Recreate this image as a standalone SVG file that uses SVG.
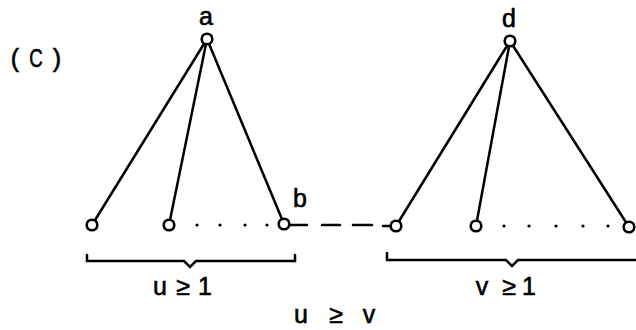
<svg xmlns="http://www.w3.org/2000/svg" width="636" height="330" viewBox="0 0 636 330">
<style>
.e{stroke:#000;stroke-width:2.5;fill:none;stroke-linecap:round}
.n{fill:#fff;stroke:#000;stroke-width:2.6}
.d{fill:#000}
.t{font-family:"Liberation Sans",Arial,sans-serif;fill:#000;stroke:#000;stroke-width:0.6;font-size:25px;text-anchor:middle}
</style>
<rect width="636" height="330" fill="#fff"/>
<g id="label-c">
<text class="t" x="15" y="67">(</text>
<text class="t" x="36" y="67" transform="translate(36 0) scale(0.75 1) translate(-36 0)" font-size="29">C</text>
<text class="t" x="57" y="67">)</text>
</g>
<g id="connectors">
<line class="e" x1="207" y1="39" x2="92" y2="225"/>
<line class="e" x1="207" y1="39" x2="169" y2="225"/>
<line class="e" x1="207" y1="39" x2="284" y2="224"/>
<line class="e" x1="510" y1="41" x2="396" y2="226"/>
<line class="e" x1="510" y1="41" x2="476" y2="226"/>
<line class="e" x1="510" y1="41" x2="629" y2="227"/>
<line class="e" x1="289" y1="225" x2="307" y2="225"/>
<line class="e" x1="322" y1="225" x2="340" y2="225"/>
<line class="e" x1="353" y1="225" x2="372" y2="225"/>
<line class="e" x1="383" y1="226" x2="391" y2="226"/>
</g>
<g id="dots">
<circle class="d" cx="197" cy="225" r="1.6"/>
<circle class="d" cx="220" cy="225" r="1.6"/>
<circle class="d" cx="245" cy="225" r="1.6"/>
<circle class="d" cx="267" cy="225" r="1.6"/>
<circle class="d" cx="504" cy="226" r="1.6"/>
<circle class="d" cx="529" cy="226" r="1.6"/>
<circle class="d" cx="556" cy="226" r="1.6"/>
<circle class="d" cx="583" cy="226" r="1.6"/>
<circle class="d" cx="608" cy="226" r="1.6"/>
</g>
<g id="node-a"><circle class="n" cx="207" cy="39" r="5.3"/><text class="t" x="206" y="25" font-size="27">a</text></g>
<g id="node-a1"><circle class="n" cx="92" cy="225" r="5.3"/></g>
<g id="node-a2"><circle class="n" cx="169" cy="225" r="5.3"/></g>
<g id="node-b"><circle class="n" cx="284" cy="224" r="5.3"/><text class="t" x="300" y="207" font-size="29">b</text></g>
<g id="node-d"><circle class="n" cx="510" cy="41" r="5.3"/><text class="t" x="509" y="27" font-size="27">d</text></g>
<g id="node-d1"><circle class="n" cx="396" cy="226" r="5.3"/></g>
<g id="node-d2"><circle class="n" cx="476" cy="226" r="5.3"/></g>
<g id="node-d3"><circle class="n" cx="629" cy="227" r="5.3"/></g>
<g id="brace-u">
<path class="e" d="M87,255 V261 H184 L190,267 L196,261 H295 V255" stroke-linecap="butt"/>
<text class="t" x="160" y="295">u</text>
<text class="t" x="183" y="295">≥</text>
<text class="t" x="205" y="295">1</text>
</g>
<g id="brace-v">
<path class="e" d="M387,253 V260 H506 L512,266 L518,260 H640" stroke-linecap="butt"/>
<text class="t" x="482" y="295">v</text>
<text class="t" x="509" y="295">≥</text>
<text class="t" x="529" y="295">1</text>
</g>
<g id="relation">
<text class="t" x="301" y="323">u</text>
<text class="t" x="336" y="323">≥</text>
<text class="t" x="369" y="323">v</text>
</g>
</svg>
